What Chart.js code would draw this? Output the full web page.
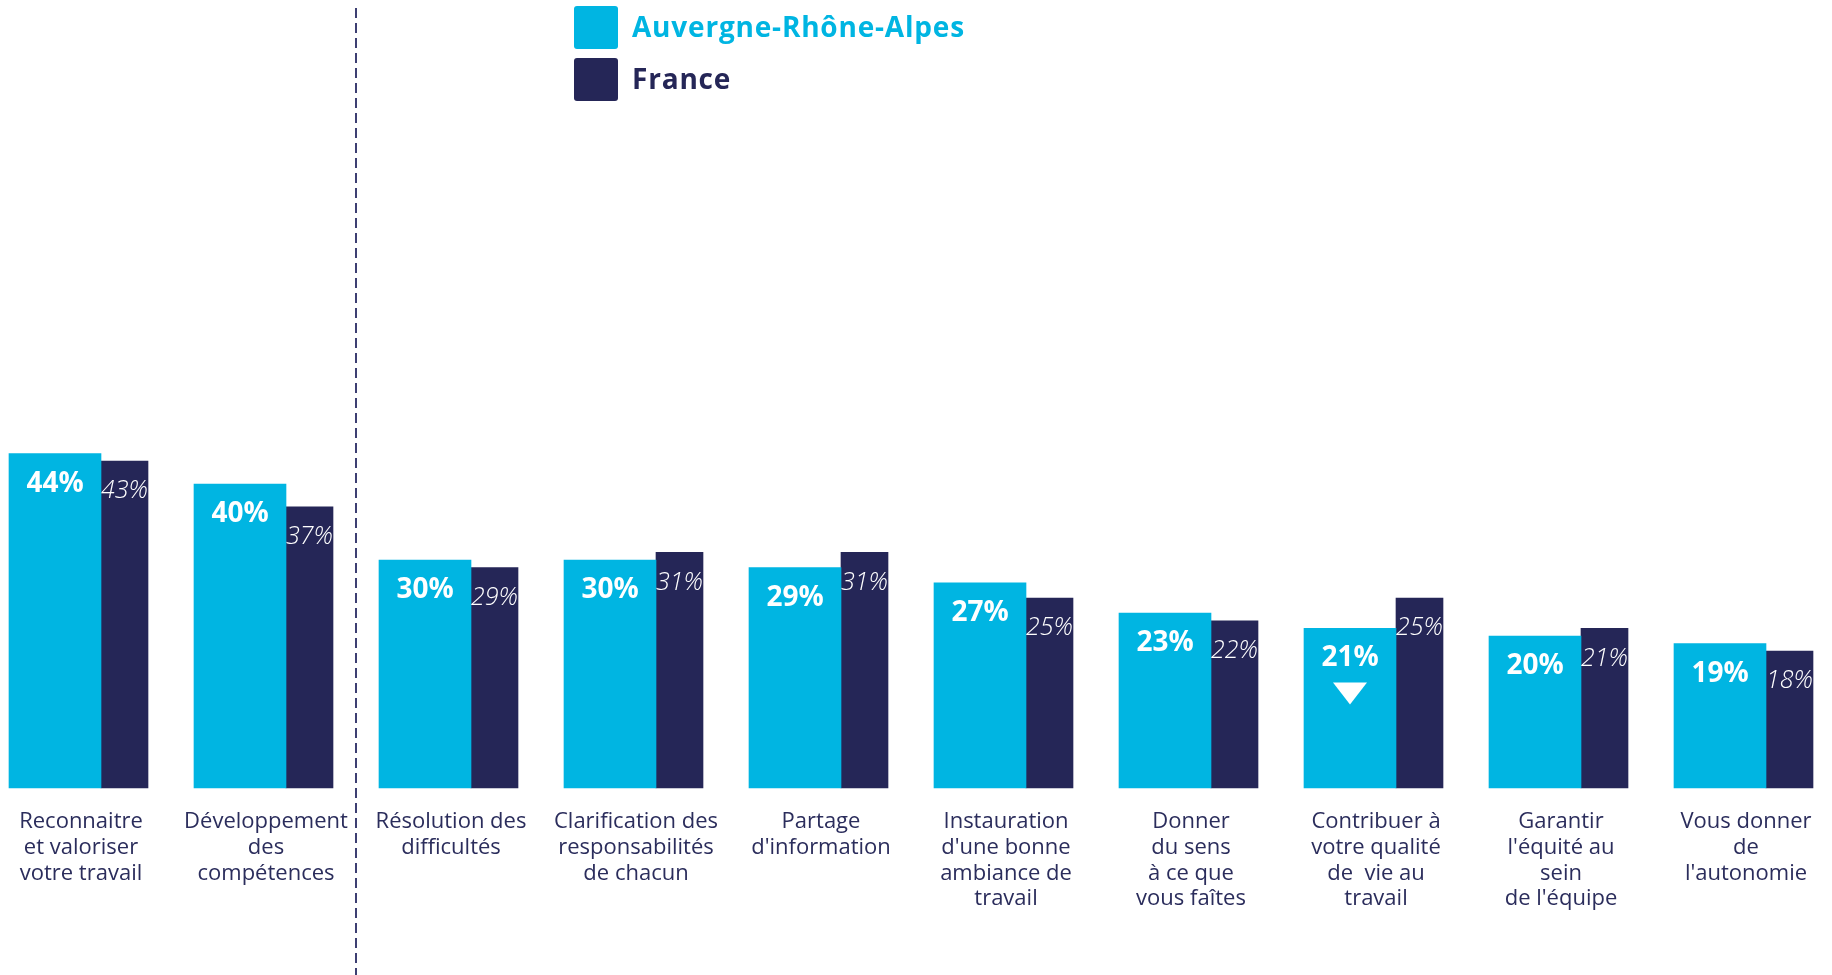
<!DOCTYPE html>
<html lang="fr">
<head>
<meta charset="utf-8">
<title>Attentes vis-à-vis du manager</title>
<script src="https://cdn.jsdelivr.net/npm/chart.js@4/dist/chart.umd.min.js"></script>
<style>
  html, body { margin: 0; padding: 0; background: #fff; }
  #wrap { position: relative; width: 1832px; height: 975px; }
</style>
</head>
<body>
<div id="wrap"><canvas id="graph"></canvas></div>
<script>
const categories = [
  ["Reconnaitre", "et valoriser", "votre travail"],
  ["Développement", "des", "compétences"],
  ["Résolution des", "difficultés"],
  ["Clarification des", "responsabilités", "de chacun"],
  ["Partage", "d'information"],
  ["Instauration", "d'une bonne", "ambiance de", "travail"],
  ["Donner", "du sens", "à ce que", "vous faîtes"],
  ["Contribuer à", "votre qualité", "de  vie au", "travail"],
  ["Garantir", "l'équité au", "sein", "de l'équipe"],
  ["Vous donner", "de", "l'autonomie"],
];
const regionLabel = "Auvergne-Rhône-Alpes";
const regionValues = [44, 40, 30, 30, 29, 27, 23, 21, 20, 19];
const franceLabel = "France";
const franceValues = [43, 37, 29, 31, 31, 25, 22, 25, 21, 18];
// significant gap vs France (only one, shown with a down arrow)
const regionTrend = [null, null, null, null, null, null, null, "down", null, null];
// dashed separator after the first two items
const separatorAfter = 1;

const CYAN = "#00b5e2";
const NAVY = "#252657";
const TEXT = "#2b2d5c";

const legendBoxes = {
  id: "legendBoxes",
  afterDraw(chart) {
    const ctx = chart.ctx;
    ctx.save();
    chart.data.datasets.forEach((ds, i) => {
      const y = 6 + i * 52;
      ctx.fillStyle = ds.backgroundColor;
      ctx.beginPath();
      ctx.roundRect(574, y, 44, 43, 3);
      ctx.fill();
      ctx.fillStyle = i === 0 ? CYAN : NAVY;
      ctx.font = "bold 28px 'Open Sans'";
      ctx.letterSpacing = "0.8px";
      ctx.textBaseline = "middle";
      ctx.textAlign = "left";
      ctx.fillText(ds.label, 632, y + 23);
    });
    ctx.restore();
  },
};

const barValues = {
  id: "barValues",
  afterDatasetsDraw(chart) {
    const ctx = chart.ctx;
    ctx.save();
    ctx.fillStyle = "#fff";
    ctx.textAlign = "center";
    ctx.textBaseline = "middle";
    chart.data.datasets.forEach((ds, i) => {
      const meta = chart.getDatasetMeta(i);
      ctx.font = i === 0 ? "bold 28px 'Open Sans'" : "italic 300 25px 'Open Sans'";
      meta.data.forEach((bar, j) => {
        ctx.fillText(ds.data[j] + "%", bar.x, bar.y + 30);
        if (i === 0 && regionTrend[j] === "down") {
          const top = bar.y + 54;
          ctx.beginPath();
          ctx.moveTo(bar.x - 17, top);
          ctx.lineTo(bar.x + 17, top);
          ctx.lineTo(bar.x, top + 22);
          ctx.closePath();
          ctx.fill();
        }
      });
    });

    // dashed separator
    const a = chart.getDatasetMeta(1).data[separatorAfter];
    const b = chart.getDatasetMeta(0).data[separatorAfter + 1];
    const x = Math.round(((a.x + a.width / 2) + (b.x - b.width / 2)) / 2);
    ctx.strokeStyle = "#3d3f72";
    ctx.lineWidth = 2;
    ctx.setLineDash([10, 5]);
    ctx.beginPath();
    ctx.moveTo(x, 8);
    ctx.lineTo(x, chart.height);
    ctx.stroke();
    ctx.restore();
  },
};

new Chart(document.getElementById("graph"), {
  type: "bar",
  data: {
    labels: categories,
    datasets: [
      {
        label: regionLabel,
        data: regionValues,
        backgroundColor: CYAN,
        barThickness: 92,
        clip: false,
      },
      {
        label: franceLabel,
        data: franceValues,
        backgroundColor: NAVY,
        barThickness: 47,
        clip: false,
      },
    ],
  },
  options: {
    responsive: true,
    maintainAspectRatio: false,
    animation: false,
    layout: { padding: { left: 101, right: 66, top: 28, bottom: 0 } },
    plugins: {
      legend: { display: false },
      tooltip: { enabled: false },
    },
    scales: {
      x: {
        offset: false,
        grid: { display: false, drawTicks: false },
        border: { display: false },
        ticks: {
          color: TEXT,
          font: { family: "'Open Sans'", size: 22, lineHeight: 1.17 },
          padding: 21,
          labelOffset: -20,
          maxRotation: 0,
          autoSkip: false,
        },
        afterFit(scale) {
          scale.height = 187;
          scale.paddingLeft = 0;
          scale.paddingRight = 0;
        },
      },
      y: { display: false, min: 0, max: 100 },
    },
  },
  plugins: [legendBoxes, barValues],
});
</script>
</body>
</html>
